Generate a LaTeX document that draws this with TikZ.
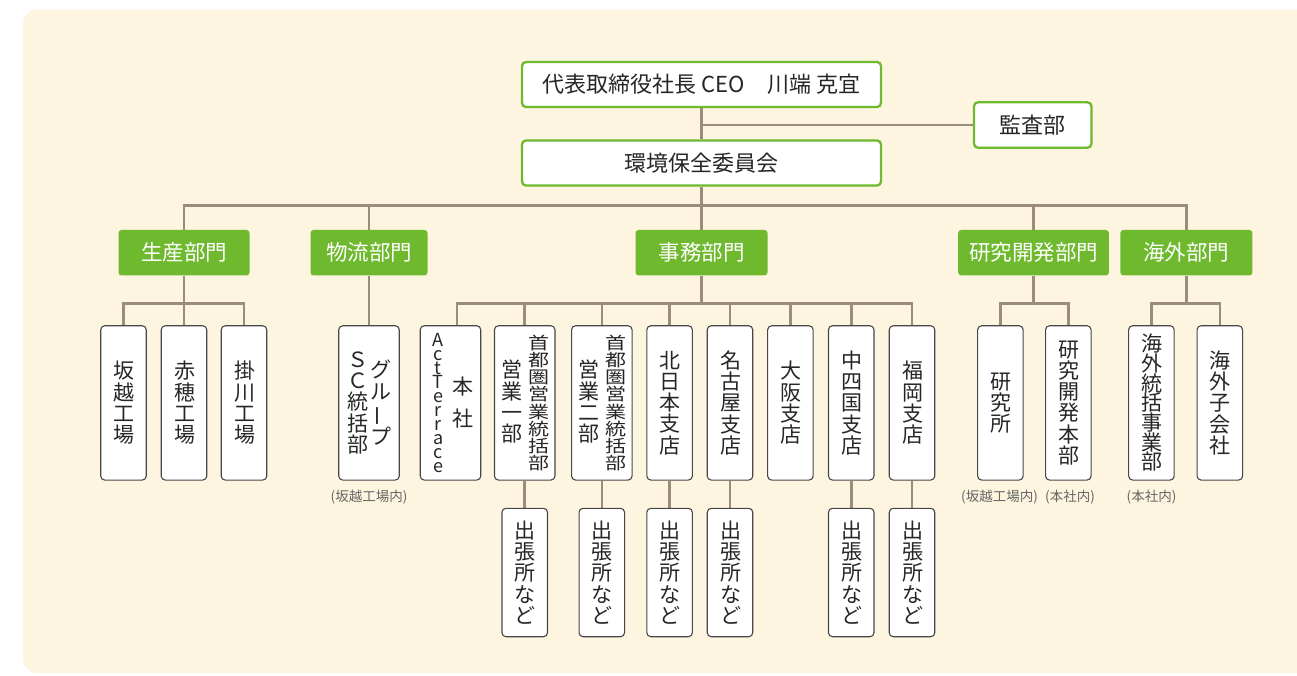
\documentclass[tikz,border=0pt]{standalone}
\usepackage{fontspec}
\setmainfont{Noto Sans CJK JP}
\usepackage{graphicx}
\usetikzlibrary{backgrounds}
\definecolor{grn}{HTML}{6EB92D}
\definecolor{brn}{HTML}{9B8C7E}
\definecolor{crm}{HTML}{FDF5DF}
\definecolor{ink}{HTML}{262626}
\newcommand\tcol[1]{\parbox[c]{20pt}{\centering #1}}
\newcommand\lbar{\rotatebox[origin=c]{90}{ー}}
\tikzset{
    head/.style={draw=grn,line width=2.3pt,fill=white,rounded corners=4pt,inner sep=0pt,
        minimum width=359pt,minimum height=45pt,text=ink,font=\fontsize{22}{24}\selectfont},
    dept/.style={fill=grn,rounded corners=3pt,inner sep=0pt,minimum height=45.5pt,
        text=white,font=\fontsize{21.5}{24}\selectfont},
    leaf/.style={draw=ink!85,line width=1.1pt,fill=white,rounded corners=4pt,inner sep=0pt,
        minimum width=45.5pt,minimum height=154.3pt,text=ink,font=\fontsize{21}{21.3}\selectfont},
    wide/.style={leaf,minimum width=60.5pt},
    trip/.style={leaf,minimum height=128.4pt},
    note/.style={inner sep=0pt,text=black!60,font=\fontsize{13.5}{15}\selectfont},
    link/.style={brn,line width=2.6pt}
}

\begin{document}
\begin{tikzpicture}[x=1pt,y=-1pt]
    \useasboundingbox (0,0) rectangle (1297,675);
    \def\ly{402.9}
    % top
    \node [head] (ceo) at (701.5,84.5) {代表取締役社長 CEO　川端 克宜};
    \node [head] (env) at (701.5,163) {環境保全委員会};
    \node [head,minimum width=117.5pt,minimum height=45.4pt] (audit) at (1032.7,125) {監査部};
    % departments
    \node [dept,minimum width=131pt] (dprod) at (184,252.7) {生産部門};
    \node [dept,minimum width=117pt] (dlog) at (369,252.7) {物流部門};
    \node [dept,minimum width=132pt] (dadm) at (701.5,252.7) {事務部門};
    \node [dept,minimum width=150.6pt] (drd) at (1033.5,252.7) {研究開発部門};
    \node [dept,minimum width=132pt] (dovs) at (1186.4,252.7) {海外部門};
    % leaves
    \foreach \nm/\x/\txt in {sak/123.5/{坂\\越\\工\\場}, ako/184/{赤\\穂\\工\\場},
        kak/244/{掛\\川\\工\\場}, kit/669.6/{北\\日\\本\\支\\店}, nag/730/{名\\古\\屋\\支\\店},
        osa/790.4/{大\\阪\\支\\店}, chu/851.2/{中\\四\\国\\支\\店}, fuk/912/{福\\岡\\支\\店},
        ken/1000.4/{研\\究\\所}, rdh/1068.3/{研\\究\\開\\発\\本\\部}, kgk/1219.8/{海\\外\\子\\会\\社}} {
        \node [leaf] (\nm) at (\x,\ly) {\tcol{\txt}};
    }
    \node [leaf] (kgt) at (1151.4,\ly) {\fontsize{21}{19.7}\selectfont\tcol{海\\外\\統\\括\\事\\業\\部}};
    \node [wide] (grp) at (369,\ly) {\tcol{Ｓ\\Ｃ\\統\\括\\部}\hspace{3pt}\tcol{グ\\ル\\\lbar\\プ}};
    \node [wide] (hq) at (450.5,\ly) {\tcol{\fontsize{18}{14}\selectfont A\\c\\t\\T\\e\\r\\r\\a\\c\\e}\hspace{4.4pt}\tcol{本\\[10.7pt]社}};
    \node [wide] (shu1) at (524.7,\ly) {\tcol{営\\業\\一\\部}\hspace{6.6pt}\scalebox{1}[.81]{\tcol{首\\都\\圏\\営\\業\\統\\括\\部}}};
    \node [wide] (shu2) at (601.8,\ly) {\tcol{営\\業\\二\\部}\hspace{6.6pt}\scalebox{1}[.81]{\tcol{首\\都\\圏\\営\\業\\統\\括\\部}}};
    \foreach \p in {shu1,shu2,kit,nag,chu,fuk} {
        \node [trip] (\p-o) at (\p |- 0,572.5) {\tcol{出\\張\\所\\な\\ど}};
    }
    \node [note] (n1) at (369,496.7) {(坂越工場内)};
    \node [note] (n2) at (999.5,496.7) {(坂越工場内)};
    \node [note] (n3) at (1070,496.7) {(本社内)};
    \node [note] (n4) at (1151.5,496.7) {(本社内)};
    \begin{scope}[on background layer]
        \fill [crm,rounded corners=14pt] (23,9.5) rectangle (1340,673);
        \coordinate (bus) at (701.5,205.7);
        \coordinate (sub) at (0,303.3);
        \draw [link] (ceo.south) -- (env.north);
        \draw [link] (audit.west) -- (audit.west -| ceo.south);
        \draw [link] (env.south) -- (bus);
        \draw [link] (dprod.north) |- (bus) -| (dovs.north);
        \foreach \d in {dlog,dadm,drd} {
            \draw [link] (\d.north) -- (\d.north |- bus);
        }
        \draw [link] (sak.north) |- (dprod.south |- sub) -| (kak.north);
        \draw [link] (dprod.south) -- (ako.north);
        \draw [link] (dlog.south) -- (grp.north);
        \draw [link] ([xshift=6.5pt]hq.north) |- (dadm.south |- sub) -| (fuk.north);
        \draw [link] (dadm.south) -- (dadm.south |- sub);
        \foreach \l in {shu1,shu2,kit,nag,osa,chu} {
            \draw [link] (\l.north) -- (\l.north |- sub);
        }
        \draw [link] (ken.north) |- (drd.south |- sub) -| (rdh.north);
        \draw [link] (drd.south) -- (drd.south |- sub);
        \draw [link] (kgt.north) |- (dovs.south |- sub) -| (kgk.north);
        \draw [link] (dovs.south) -- (dovs.south |- sub);
        \foreach \p in {shu1,shu2,kit,nag,chu,fuk} {
            \draw [link] (\p.south) -- (\p-o.north);
        }
    \end{scope}
\end{tikzpicture}
\end{document}
